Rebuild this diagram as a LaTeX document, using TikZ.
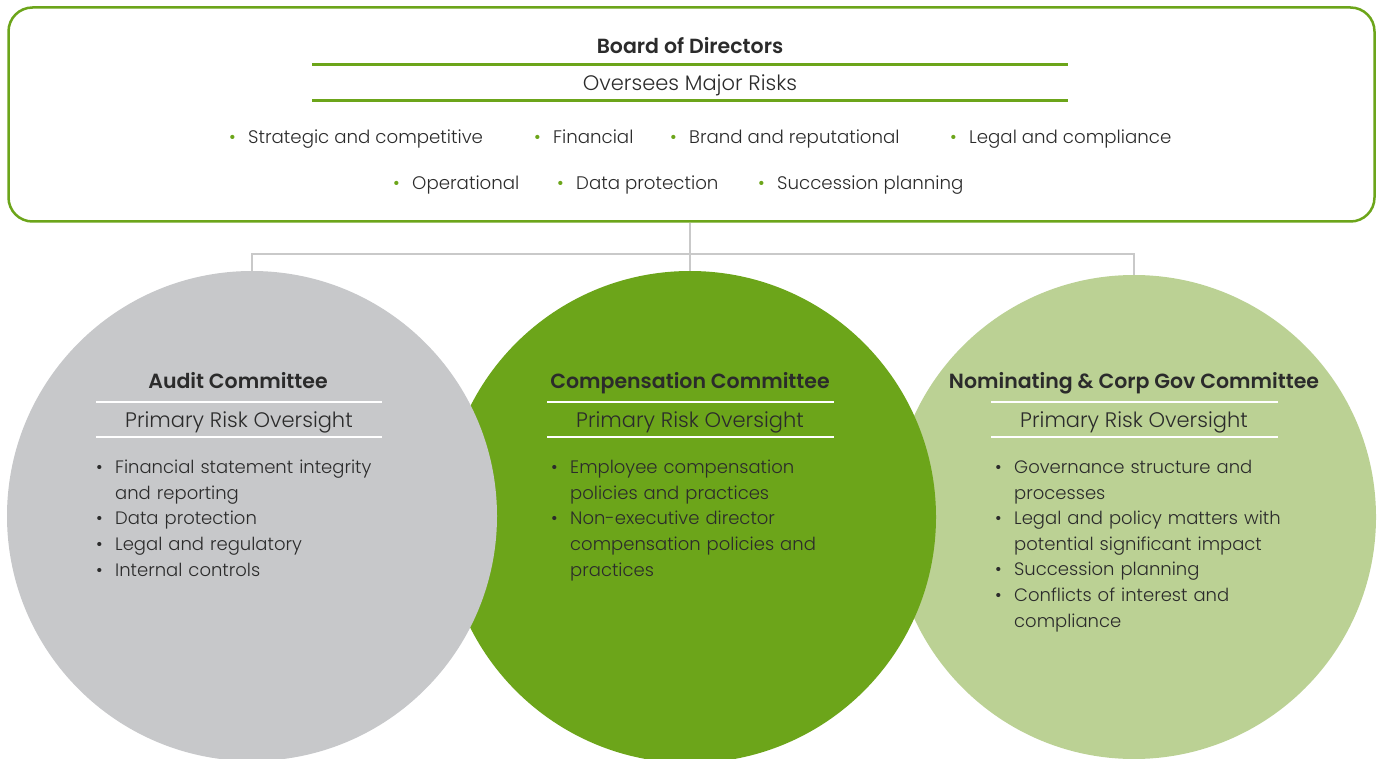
\documentclass[tikz,border=0pt]{standalone}
\usepackage{fontspec}
\setmainfont{Poppins}[UprightFont=* Light, BoldFont=* SemiBold]
\usetikzlibrary{positioning}

\definecolor{leafgreen}{RGB}{108,165,26}
\definecolor{palegreen}{RGB}{187,209,148}
\definecolor{stonegrey}{RGB}{199,200,202}
\definecolor{linkgrey}{RGB}{201,201,201}
\definecolor{inkgrey}{RGB}{43,43,43}

% one item of a risk list, with a hanging indent
\newcommand{\riskline}[1]{\hangindent=19pt\hangafter=1\noindent\makebox[19pt][l]{\textbullet}#1\par}
\newcommand{\greenbul}{\makebox[19pt][l]{\textcolor{leafgreen}{\textbullet}}}

\tikzset{
  boardbox/.style={draw=leafgreen, line width=2.5pt, rounded corners=24pt,
    minimum width=1366pt, minimum height=214pt, inner sep=0pt},
  committee/.style={circle, inner sep=0pt, minimum size=#1},
  headline/.style={anchor=base, font=\fontsize{20.5}{24}\selectfont\bfseries, text=inkgrey, inner sep=0pt},
  subline/.style={anchor=base, font=\fontsize{21}{24}\selectfont, text=inkgrey, inner sep=0pt},
  boardrisk/.style={anchor=base west, font=\fontsize{18.2}{22}\selectfont, text=inkgrey, inner sep=0pt},
  risklist/.style={anchor=north west, text width=320pt, align=left,
    font=\fontsize{18}{25.6}\selectfont, text=inkgrey, inner sep=0pt},
  greenrule/.style={leafgreen, line width=3pt},
  whiterule/.style={white, line width=2pt},
  link/.style={linkgrey, line width=2pt}
}

\begin{document}
\begin{tikzpicture}[x=1pt, y=-1pt]
  \useasboundingbox (0,0) rectangle (1381,759);

  %%% board box
  \node[boardbox] (board) at (691.5,114.5) {};
  \node[headline] (boardtitle) at (690,54) {Board of Directors};
  \draw[greenrule] (312,65) -- (1068,65);
  \node[subline] (boardsub) at (690,91) {Oversees Major Risks};
  \draw[greenrule] (312,101) -- (1068,101);

  \node[boardrisk] (strat) at (229,144) {\greenbul Strategic and competitive};
  \node[boardrisk] (fin)   at (534,144) {\greenbul Financial};
  \node[boardrisk] (brand) at (670,144) {\greenbul Brand and reputational};
  \node[boardrisk] (legal) at (950,144) {\greenbul Legal and compliance};
  \node[boardrisk] (oper)  at (393,190) {\greenbul Operational};
  \node[boardrisk] (data)  at (557,190) {\greenbul Data protection};
  \node[boardrisk] (succ)  at (758,190) {\greenbul Succession planning};

  %%% committees (pale one at the back, grey one in front)
  \node[committee=484pt, fill=palegreen] (nomgov) at (1134,517) {};
  \node[committee=492pt, fill=leafgreen] (comp) at (690,517) {};
  \node[committee=490pt, fill=stonegrey] (audit) at (252,516) {};

  %%% links
  \coordinate (bus) at (690,254);
  \draw[link] (board.south -| comp.north) -- (comp.north);
  \draw[link] (audit.north) |- (bus) -| (nomgov.north);

  %%% audit
  \node[headline] (audittitle) at (238,388) {Audit Committee};
  \draw[whiterule] (96,402) -- (382,402);
  \node[subline] (auditsub) at (239,427) {Primary Risk Oversight};
  \draw[whiterule] (96,437) -- (382,437);
  \node[risklist] (auditrisks) at (96,460) {%
    \riskline{Financial statement integrity\newline and reporting}
    \riskline{Data protection}
    \riskline{Legal and regulatory}
    \riskline{Internal controls}};

  %%% compensation
  \node[headline] (comptitle) at (690,388) {Compensation Committee};
  \draw[whiterule] (547,402) -- (834,402);
  \node[subline] (compsub) at (690,427) {Primary Risk Oversight};
  \draw[whiterule] (547,437) -- (834,437);
  \node[risklist] (comprisks) at (551,460) {%
    \riskline{Employee compensation\newline policies and practices}
    \riskline{Non-executive director\newline compensation policies and\newline practices}};

  %%% nominating and governance
  \node[headline] (nomtitle) at (1134,388) {Nominating \& Corp Gov Committee};
  \draw[whiterule] (991,402) -- (1278,402);
  \node[subline] (nomsub) at (1134,427) {Primary Risk Oversight};
  \draw[whiterule] (991,437) -- (1278,437);
  \node[risklist] (nomrisks) at (995,460) {%
    \riskline{Governance structure and\newline processes}
    \riskline{Legal and policy matters with\newline potential significant impact}
    \riskline{Succession planning}
    \riskline{Conflicts of interest and\newline compliance}};
\end{tikzpicture}
\end{document}
